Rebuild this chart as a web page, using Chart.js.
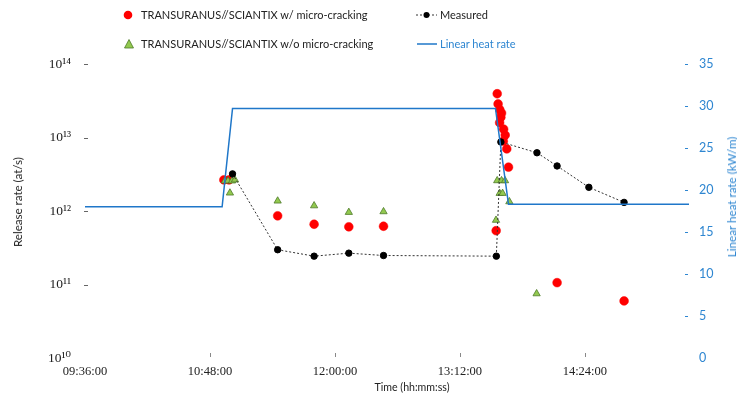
<!DOCTYPE html>
<html><head><meta charset="utf-8">
<script src="https://cdn.jsdelivr.net/npm/chart.js@4.4.1/dist/chart.umd.min.js"></script>
<style>
html,body{margin:0;padding:0;background:#fff;}
#wrap{position:relative;width:737px;height:397px;overflow:hidden;background:#fff;}
canvas{position:absolute;left:0;top:0;}
.lg{position:absolute;font-family:Lato,"DejaVu Sans Condensed",sans-serif;color:#222;white-space:nowrap;line-height:16px;height:16px;}
.sym{position:absolute;}
.ttl{position:absolute;font-family:Lato,"DejaVu Sans Condensed",sans-serif;white-space:nowrap;line-height:14px;transform:translate(-50%,-50%);}
.rot{transform:translate(-50%,-50%) rotate(-90deg);}
</style></head><body>
<div id="wrap">
<canvas id="c" width="737" height="397"></canvas>
<svg class="sym" style="left:122px;top:9px" width="12" height="12"><circle cx="6" cy="6" r="4.3" fill="#ff0000"/></svg>
<div class="lg" id="lg1" style="left:141px;top:7px">TRANSURANUS//SCIANTIX w/ micro-cracking</div>
<svg class="sym" style="left:414px;top:9px" width="26" height="12"><line x1="2" y1="6" x2="23" y2="6" stroke="#333" stroke-width="1" stroke-dasharray="2,2"/><circle cx="12.5" cy="6" r="3" fill="#000"/></svg>
<div class="lg" id="lg2" style="left:440px;top:7px">Measured</div>
<svg class="sym" style="left:123px;top:38px" width="12" height="12"><polygon points="6,1.5 10.5,10 1.5,10" fill="#92c94f" stroke="#4e7a2a" stroke-width="0.8"/></svg>
<div class="lg" id="lg3" style="left:141px;top:36px">TRANSURANUS//SCIANTIX w/o micro-cracking</div>
<svg class="sym" style="left:415px;top:38px" width="24" height="12"><line x1="2" y1="6" x2="22" y2="6" stroke="#1f77c9" stroke-width="1.5"/></svg>
<div class="lg" id="lg4" style="left:440px;top:36px;color:#2e86d1">Linear heat rate</div>
<div class="ttl rot" id="tl" style="left:18px;top:202px;color:#222">Release rate (at/s)</div>
<div class="ttl rot" id="tr" style="left:731px;top:197px;color:#2e86d1">Linear heat rate (kW/m)</div>
<div class="ttl" id="tx" style="left:412px;top:387px;color:#222">Time (hh:mm:ss)</div>
</div>
<script>
// ---- data (time in minutes since midnight) ----
const measuredTime = [661, 687, 708, 728, 748, 813, 815.6, 836.4, 848, 866.3, 886.6];
const measuredRate = [3.2e12, 2.97e11, 2.43e11, 2.67e11, 2.48e11, 2.43e11, 8.7e12, 6.2e12, 4.1e12, 2.1e12, 1.31e12];

const crackTime = [656, 659, 687, 708, 728, 748, 812.9, 813.5, 814, 815, 816, 815.6, 814.9, 817.2, 818.1, 817, 819, 820, 848, 886.6];
const crackRate = [2.65e12, 2.65e12, 8.6e11, 6.6e11, 6.1e11, 6.2e11, 5.4e11, 3.94e13, 2.86e13, 2.39e13, 2.15e13, 1.88e13, 1.59e13, 1.30e13, 1.08e13, 8.9e12, 7.0e12, 3.95e12, 1.06e11, 5.97e10];

const noCrackTime = [656.6, 658.4, 660.7, 662.4, 659.5, 687, 708, 728, 748, 812.8, 813.5, 816, 818, 814.9, 816.6, 820.5, 836.2];
const noCrackRate = [2.57e12, 2.57e12, 2.57e12, 2.65e12, 1.76e12, 1.37e12, 1.18e12, 9.6e11, 9.8e11, 7.5e11, 2.59e12, 2.59e12, 2.59e12, 1.74e12, 1.74e12, 1.34e12, 7.5e10];

const powerTime = [576, 655, 661, 812.5, 820, 924];
const powerLHR = [18, 18, 29.7, 29.7, 18.3, 18.3];

const xTickValues = [576, 648, 720, 792, 864];
const xTickLabels = ['09:36:00', '10:48:00', '12:00:00', '13:12:00', '14:24:00'];
const yTickValues = [1e10, 1e11, 1e12, 1e13, 1e14];
const yTickLabels = ['10\u00B9\u2070', '10\u00B9\u00B9', '10\u00B9\u00B2', '10\u00B9\u00B3', '10\u00B9\u2074'];
const y1TickValues = [0, 5, 10, 15, 20, 25, 30, 35];

const pts = (xs, ys) => xs.map((x, i) => ({x: x, y: ys[i]}));

const sansFam = 'Lato,"DejaVu Sans Condensed",sans-serif';
const serif = '"Liberation Serif","DejaVu Serif",serif';

// size text elements so that their widths match the reference
const mctx = document.createElement('canvas').getContext('2d');
function fitSize(text, target) {
  mctx.font = '20px ' + sansFam;
  return 20 * target / mctx.measureText(text).width;
}
const lgSize = fitSize(document.getElementById('lg1').textContent, 227);
['lg1', 'lg2', 'lg3', 'lg4'].forEach(id => { document.getElementById(id).style.fontSize = lgSize + 'px'; });
[['tl', 90], ['tr', 121], ['tx', 75]].forEach(([id, w]) => {
  const el = document.getElementById(id);
  el.style.fontSize = fitSize(el.textContent, w) + 'px';
});

const insideTicks = {
  id: 'insideTicks',
  afterDatasetsDraw(chart) {
    const {ctx, chartArea: a, scales} = chart;
    ctx.save();
    ctx.lineWidth = 1;
    ctx.strokeStyle = '#666';
    scales.y.ticks.forEach(t => {
      if (t.value <= scales.y.min) return;
      const py = Math.round(scales.y.getPixelForValue(t.value)) + 0.5;
      ctx.beginPath(); ctx.moveTo(a.left - 1, py); ctx.lineTo(a.left + 3, py); ctx.stroke();
    });
    ctx.strokeStyle = '#888';
    scales.x.ticks.forEach(t => {
      if (t.value <= scales.x.min) return;
      const px = Math.round(scales.x.getPixelForValue(t.value)) + 0.5;
      ctx.beginPath(); ctx.moveTo(px, a.bottom - 5); ctx.lineTo(px, a.bottom - 1); ctx.stroke();
    });
    ctx.strokeStyle = '#2e86d1';
    scales.y1.ticks.forEach(t => {
      if (t.value <= scales.y1.min) return;
      const py = Math.round(scales.y1.getPixelForValue(t.value)) + 0.5;
      ctx.beginPath(); ctx.moveTo(a.right - 4, py); ctx.lineTo(a.right - 1, py); ctx.stroke();
    });
    ctx.restore();
  }
};

new Chart(document.getElementById('c'), {
  type: 'scatter',
  data: {
    datasets: [
      {
        label: 'Linear heat rate', data: pts(powerTime, powerLHR), yAxisID: 'y1',
        showLine: true, borderColor: '#1f77c9', borderWidth: 1.5, pointRadius: 0, order: 0
      },
      {
        label: 'Measured', data: pts(measuredTime, measuredRate), yAxisID: 'y',
        showLine: true, borderColor: '#333', borderWidth: 1, borderDash: [2, 2],
        pointRadius: 3.2, pointBackgroundColor: '#000', pointBorderColor: '#000', order: 1
      },
      {
        label: 'TRANSURANUS//SCIANTIX w/o micro-cracking', data: pts(noCrackTime, noCrackRate), yAxisID: 'y',
        pointStyle: 'triangle', pointRadius: 4.2, pointBackgroundColor: '#92c94f', pointBorderColor: '#4e7a2a', pointBorderWidth: 0.8, order: 2
      },
      {
        label: 'TRANSURANUS//SCIANTIX w/ micro-cracking', data: pts(crackTime, crackRate), yAxisID: 'y',
        pointStyle: 'circle', pointRadius: 4.4, pointBackgroundColor: '#ff0000', pointBorderColor: '#ff0000', pointBorderWidth: 0.5, order: 3
      }
    ]
  },
  options: {
    responsive: false, animation: false, devicePixelRatio: 1,
    layout: {padding: {top: 64, left: 0, right: 0, bottom: 0}},
    plugins: {legend: {display: false}, tooltip: {enabled: false}},
    scales: {
      x: {
        type: 'linear', position: 'bottom', min: 576, max: 924,
        afterBuildTicks: s => { s.ticks = xTickValues.map(v => ({value: v})); },
        afterFit: s => { s.height = 39; },
        grid: {display: false, drawTicks: false}, border: {display: false},
        ticks: {
          padding: 6, color: '#222', font: {family: serif, size: 12.5}, maxRotation: 0, autoSkip: false,
          callback: v => { const i = xTickValues.indexOf(v); return i >= 0 ? xTickLabels[i] : ''; }
        }
      },
      y: {
        type: 'logarithmic', position: 'left', min: 1e10, max: 1e14,
        afterBuildTicks: s => { s.ticks = yTickValues.map(v => ({value: v})); },
        afterFit: s => { s.width = 85; },
        grid: {display: false, drawTicks: false}, border: {display: false},
        ticks: {
          padding: 14, color: '#222', font: {family: serif, size: 13.5}, autoSkip: false,
          callback: v => { const i = yTickValues.indexOf(v); return i >= 0 ? yTickLabels[i] : ''; }
        }
      },
      y1: {
        type: 'linear', position: 'right', min: 0, max: 35,
        afterBuildTicks: s => { s.ticks = y1TickValues.map(v => ({value: v})); },
        afterFit: s => { s.width = 48; },
        grid: {display: false, drawTicks: false}, border: {display: false},
        ticks: {padding: 10, color: '#2e86d1', font: {family: sansFam, size: 12.5}}
      }
    }
  },
  plugins: [insideTicks]
});
</script>
</body></html>
